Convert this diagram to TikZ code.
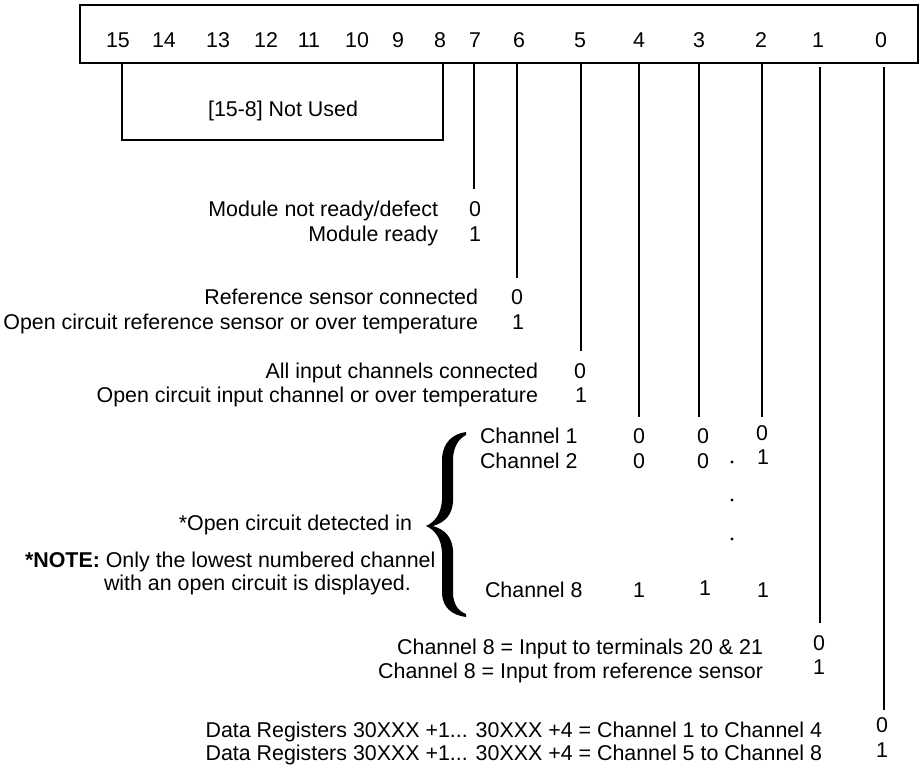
\documentclass[tikz,border=0pt]{standalone}
\usepackage{fontspec}
\setmainfont{Liberation Sans}
\begin{document}
\begin{tikzpicture}[x=1pt,y=-1pt,
  every node/.style={inner sep=0pt,outer sep=0pt,font=\fontsize{21.4}{24}\selectfont},
  bitnum/.style={anchor=base},
  lbl/.style={anchor=base east},
  lbll/.style={anchor=base west},
  val/.style={anchor=base},
  wire/.style={line width=2.2pt},
  frame/.style={line width=2pt}]
\useasboundingbox (0,0) rectangle (920,766);
% register box
\draw[frame] (80,5) rectangle (918,63);
\foreach \b/\x in {15/118,14/164,13/218,12/266,11/309,10/357,9/398,8/440,7/475,6/519,5/580,4/639,3/699,2/761,1/818,0/881}
  \node[bitnum] (b\b) at (\x,47) {\b};
% not used bracket
\coordinate (nuA) at (122,63);
\coordinate (nuB) at (443,63);
\draw[frame] (nuA) -- (122,140) -- (443,140) -- (nuB);
\node[anchor=base] (nu) at (283,116) {[15-8] Not Used};
% bit lines
\foreach \b/\x/\ys/\ye in {7/474/63/189,6/517/63/278,5/581/63/351,4/639/63/417,3/699/63/417,2/762/63/417,1/820/67/623,0/884/67/710}{
  \coordinate (t\b) at (\x,\ys);
  \coordinate (e\b) at (\x,\ye);
  \draw[wire] (t\b) -- (e\b);
}
% bit 7
\node[lbl] (l70) at (438,216.5) {Module not ready/defect};
\node[lbl] (l71) at (438,241.5) {Module ready};
\node[val] (v70) at (475,216.5) {0};
\node[val] (v71) at (475,241.5) {1};
% bit 6
\node[lbl] (l60) at (478,304.5) {Reference sensor connected};
\node[lbl] (l61) at (478,329.5) {Open circuit reference sensor or over temperature};
\node[val] (v60) at (517,304.5) {0};
\node[val] (v61) at (518,329.5) {1};
% bit 5
\node[lbl] (l50) at (538,378.5) {All input channels connected};
\node[lbl] (l51) at (538,402.5) {Open circuit input channel or over temperature};
\node[val] (v50) at (580,378.5) {0};
\node[val] (v51) at (581,402.5) {1};
% channels
\node[lbll] (c1) at (480,443.5) {Channel 1};
\node[lbll] (c2) at (480,468.5) {Channel 2};
\node[lbll] (c8) at (485,597.5) {Channel 8};
\node[val] (c14) at (639,443.5) {0};
\node[val] (c13) at (703,443.5) {0};
\node[val] (c12) at (762,440.5) {0};
\node[val] (c24) at (639,468.5) {0};
\node[val] (c23) at (703,468.5) {0};
\node[val] (c22) at (763,464.5) {1};
\node[val] (c84) at (639,597.5) {1};
\node[val] (c83) at (705,595.5) {1};
\node[val] (c82) at (763,597.5) {1};
\fill (732,462) circle (1.7);
\fill (732,500) circle (1.7);
\fill (732,539) circle (1.7);
% brace
\fill (466,432) .. controls (452,434) and (443,443) .. (442,458) -- (442,500)
  .. controls (441,514) and (435,522) .. (426,526)
  .. controls (435,530) and (441,538) .. (442,552) -- (442,594)
  .. controls (443,608) and (452,615) .. (466,617) -- (466,614)
  .. controls (458,611) and (453,604) .. (453,592) -- (453,550)
  .. controls (452,538) and (446,530) .. (433,526)
  .. controls (446,522) and (452,514) .. (453,502) -- (453,460)
  .. controls (453,448) and (458,439) .. (466,435) -- cycle;
\node[lbl] (oc) at (412,530.5) {*Open circuit detected in};
\node[lbll] (note) at (25,567) {\textbf{*NOTE:} Only the lowest numbered channel};
\node[lbll] (note2) at (104,590.5) {with an open circuit is displayed.};
% bit 1
\node[lbl] (l10) at (763,654.5) {Channel 8 = Input to terminals 20 \& 21};
\node[lbl] (l11) at (763,678.5) {Channel 8 = Input from reference sensor};
\node[val] (v10) at (819,650.5) {0};
\node[val] (v11) at (819,674.5) {1};
% bit 0
\node[lbl] (l00) at (822,737.5) {Data Registers 30XXX +1... 30XXX +4 = Channel 1 to Channel 4};
\node[lbl] (l01) at (822,760.5) {Data Registers 30XXX +1... 30XXX +4 = Channel 5 to Channel 8};
\node[val] (v00) at (882,732.5) {0};
\node[val] (v01) at (882,757.5) {1};
\end{tikzpicture}
\end{document}
